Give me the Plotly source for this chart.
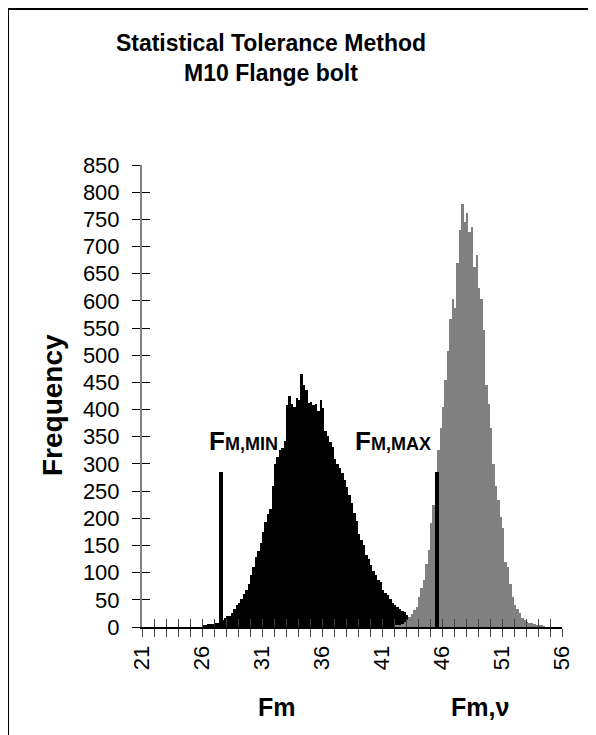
import plotly.graph_objects as go

# ---------------- data ----------------
bin_width = 0.2

# Fm histogram (black), first bin starts at 26.0
fm_start = 26.0
fm_counts = [4, 4, 5, 5, 6, 7, 8, 10, 13, 17,
             20, 21, 26, 34, 40, 44, 52, 60, 68, 80,
             95, 111, 128, 140, 154, 175, 194, 208, 218, 260,
             300, 313, 326, 330, 342, 408, 425, 410, 405, 421,
             418, 465, 445, 436, 412, 414, 408, 410, 398, 418,
             403, 360, 352, 340, 332, 310, 300, 292, 283, 270,
             258, 243, 228, 210, 195, 172, 160, 150, 132, 125,
             114, 103, 95, 86, 82, 68, 62, 58, 52, 45,
             40, 36, 34, 30, 27, 22, 19, 12, 6]

# Fm,v histogram (grey), first bin starts at 42.0
fmv_start = 42.0
fmv_counts = [2, 3, 4, 6, 9, 13, 18, 24, 31, 37,
              55, 72, 86, 115, 142, 191, 225, 258, 326, 366,
              405, 455, 508, 566, 603, 587, 670, 730, 778, 746,
              762, 727, 736, 662, 684, 623, 603, 546, 446, 411,
              366, 300, 260, 234, 203, 182, 120, 110, 80, 55,
              40, 33, 25, 16, 13, 10, 8, 7, 6, 4,
              3, 2, 1]

# limit markers (F_M,MIN and F_M,MAX)
limit_x = [27.58, 45.57]
limit_height = [285, 285]

x_tick_vals = [21, 26, 31, 36, 41, 46, 51, 56]
x_tick_labels = ["21", "26", "31", "36", "41", "46", "51", "56"]
y_tick_vals = [0, 50, 100, 150, 200, 250, 300, 350, 400, 450,
               500, 550, 600, 650, 700, 750, 800, 850]
y_tick_labels = ["0", "50", "100", "150", "200", "250", "300", "350", "400", "450",
                 "500", "550", "600", "650", "700", "750", "800", "850"]

FONT = "Arial, Liberation Sans, sans-serif"

# ---------------- figure ----------------
fig = go.Figure()

fig.add_trace(go.Bar(
    x0=fm_start + bin_width / 2, dx=bin_width, y=fm_counts,
    width=bin_width * 1.03, marker=dict(color="#000000", line=dict(width=0)),
    showlegend=False, hoverinfo="skip"))

fig.add_trace(go.Bar(
    x0=fmv_start + bin_width / 2, dx=bin_width, y=fmv_counts,
    width=bin_width * 1.03, marker=dict(color="#808080", line=dict(width=0)),
    showlegend=False, hoverinfo="skip"))

fig.add_trace(go.Bar(
    x=limit_x, y=limit_height, width=0.35,
    marker=dict(color="#000000", line=dict(width=0)),
    showlegend=False, hoverinfo="skip"))

# dummy trace so the overlay axes (inside half of the crossing ticks) are drawn
fig.add_trace(go.Scatter(x=[None], y=[None], xaxis="x2", yaxis="y2",
                         showlegend=False, hoverinfo="skip"))

# figure is shown with an 8px page margin; work in figure pixels
W, H = 588, 727
L, T = 134, 157
pw, ph = 420, 462
R = W - L - pw
B = H - T - ph
OFF = 8  # page offset


def pgx(px):
    """page x pixel -> paper x"""
    return (px - OFF - L) / pw


def pgy(py):
    """page y pixel -> paper y"""
    return (T + ph - (py - OFF)) / ph


fig.update_layout(
    width=W, height=H, autosize=False,
    margin=dict(l=L, r=R, t=T, b=B, pad=0),
    paper_bgcolor="white", plot_bgcolor="white",
    barmode="overlay", bargap=0,
    font=dict(family=FONT, color="black"),
    title=dict(
        text="<b>Statistical Tolerance Method<br>M10 Flange bolt</b>",
        font=dict(family=FONT, size=23, color="black"),
        x=(271 - OFF) / W, xref="container", xanchor="center",
        y=1 - 43 / H, yref="container", yanchor="top"),
    xaxis=dict(
        range=[21, 56], tickmode="array", tickvals=x_tick_vals, ticktext=x_tick_labels,
        tickangle=-90, tickfont=dict(family=FONT, size=22, color="black"),
        ticks="outside", ticklen=8, tickwidth=1, tickcolor="#404040",
        minor=dict(dtick=1, tick0=21, ticks="outside", ticklen=8, tickwidth=1, tickcolor="#404040"),
        showline=True, linecolor="#000000", linewidth=2,
        showgrid=False, zeroline=False, ticklabelstandoff=0, fixedrange=True),
    yaxis=dict(
        range=[0, 850], tickmode="array", tickvals=y_tick_vals, ticktext=y_tick_labels,
        tickfont=dict(family=FONT, size=22, color="black"),
        ticks="outside", ticklen=8, tickwidth=1, tickcolor="#000000",
        showline=True, linecolor="#808080", linewidth=2,
        showgrid=False, zeroline=False, ticklabelstandoff=8, fixedrange=True),
    xaxis2=dict(
        overlaying="x", anchor="y2", side="bottom", range=[21, 56],
        tick0=21, dtick=1, ticks="inside", ticklen=8, tickwidth=1, tickcolor="#404040",
        showticklabels=False, showline=False, showgrid=False, zeroline=False),
    yaxis2=dict(
        overlaying="y", anchor="x2", side="left", range=[0, 850],
        tick0=0, dtick=50, ticks="inside", ticklen=8, tickwidth=1, tickcolor="#000000",
        showticklabels=False, showline=False, showgrid=False, zeroline=False),
)

annotations = [
    dict(text="<b>Frequency</b>", textangle=-90, font=dict(family=FONT, size=28),
         xref="paper", yref="paper", x=pgx(52), y=pgy(405),
         xanchor="center", yanchor="middle", showarrow=False),
    dict(text="<b>Fm</b>", font=dict(family=FONT, size=25),
         xref="paper", yref="paper", x=pgx(277), y=pgy(707),
         xanchor="center", yanchor="middle", showarrow=False),
    dict(text="<b>Fm,ν</b>", font=dict(family=FONT, size=25),
         xref="paper", yref="paper", x=pgx(480), y=pgy(707),
         xanchor="center", yanchor="middle", showarrow=False),
    dict(text="<b>F<span style='font-size:18px'>M,MIN</span></b>", font=dict(family=FONT, size=26),
         xref="x", yref="y", x=26.4, y=342, xanchor="left", yanchor="middle", showarrow=False),
    dict(text="<b>F<span style='font-size:18px'>M,MAX</span></b>", font=dict(family=FONT, size=26),
         xref="x", yref="y", x=38.6, y=342, xanchor="left", yanchor="middle", showarrow=False),
]
fig.update_layout(annotations=annotations)

# outer chart frame (left and top edges visible)
fig.add_shape(type="rect", xref="paper", yref="paper",
              x0=pgx(8), x1=pgx(640),
              y0=pgy(790), y1=pgy(9),
              line=dict(color="#000000", width=2), fillcolor="rgba(0,0,0,0)", layer="above")

fig.write_html("out.html")
